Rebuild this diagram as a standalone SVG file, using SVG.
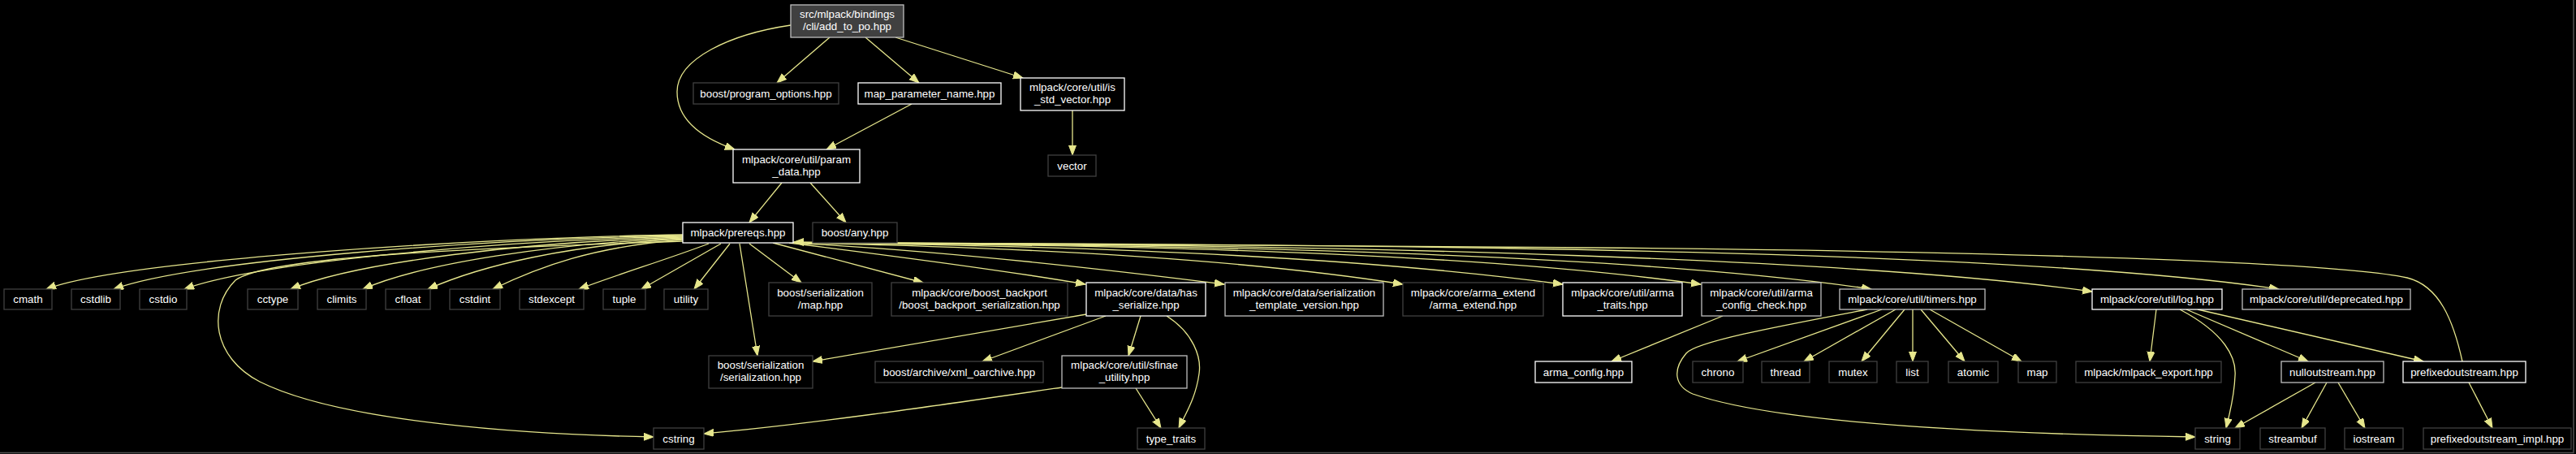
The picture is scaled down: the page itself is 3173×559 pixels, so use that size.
<svg xmlns="http://www.w3.org/2000/svg" width="3173" height="559" viewBox="0 0 3173 559">
<defs>
<style>
.n rect{fill:#000;stroke:#404040;stroke-width:1.3}
.n.w rect{stroke:#ffffff}
.n.g rect{stroke:#bfbfbf}
.n.top rect{fill:#404040;stroke:#bfbfbf}
text{font-family:"Liberation Sans",Arial,Helvetica,sans-serif;font-size:13.33px;fill:#ffffff;text-anchor:middle}
#edges path{fill:none;stroke:#e6e68c;stroke-width:1.3;marker-end:url(#a)}
</style>
<marker id="a" markerUnits="userSpaceOnUse" markerWidth="14" markerHeight="10" refX="12" refY="4.5" orient="auto"><path d="M0,0 L12,4.5 L0,9 z" fill="#e6e68c" stroke="#e6e68c" stroke-width="1"/></marker>
</defs>
<rect x="0" y="0" width="3173" height="559" fill="#000"/>
<path d="M0,557.5 H3170 V0" fill="none" stroke="#505050" stroke-width="1.5"/>
<g id="edges">
<path d="M974,31 C900,42 834,72 834,113 C834,148 865,170 905,184"/>
<path d="M1022,46 L957,102"/>
<path d="M1066,46 L1132,102"/>
<path d="M1103,46 L1260,96"/>
<path d="M1321,136 L1321,191"/>
<path d="M1123,128 L1018,184"/>
<path d="M963,225 L923,274"/>
<path d="M998,225 L1042,274"/>
<path d="M841,289 C600,292 150,320 57,356"/>
<path d="M841,290 C600,294 240,320 140,356"/>
<path d="M841,291 C620,296 320,322 227,356"/>
<path d="M841,292 C650,298 440,322 358,356"/>
<path d="M841,293 C680,300 520,324 447,356"/>
<path d="M841,294 C700,302 595,326 527,356"/>
<path d="M841,295 C730,304 665,328 607,356"/>
<path d="M873,300 C820,320 760,338 713,356"/>
<path d="M888,300 L790,356"/>
<path d="M899,300 L855,356"/>
<path d="M841,297 C600,305 330,315 290,345 C255,380 262,440 320,470 C420,520 650,535 805,538"/>
<path d="M911,300 L933,438"/>
<path d="M923,300 L987,348"/>
<path d="M952,299 L1137,348"/>
<path d="M972,299 C1100,315 1250,335 1337,350"/>
<path d="M975,299 C1150,308 1350,330 1508,350"/>
<path d="M976,299 C1300,305 1550,322 1728,350"/>
<path d="M976,299 C1400,303 1700,320 1925,350"/>
<path d="M977,299 C1500,302 1850,316 2095,350"/>
<path d="M977,299 C1600,301 2050,318 2305,356"/>
<path d="M977,299 C1700,300 2300,320 2577,359"/>
<path d="M977,299 C1800,300 2500,310 2807,356"/>
<path d="M3033,445 C3022,395 3005,352 2965,342 C2850,318 2300,308 1960,305 C1500,302 1200,299 978,298"/>
<path d="M1338,387 L1001,445"/>
<path d="M1362,389 L1210,445"/>
<path d="M1405,389 L1390,438"/>
<path d="M1437,389 C1470,410 1480,440 1477,460 C1473,490 1460,510 1452,527"/>
<path d="M1308,477 C1150,500 1000,522 867,534"/>
<path d="M1399,478 L1430,527"/>
<path d="M2122,389 L1985,445"/>
<path d="M2318,381 L2140,445"/>
<path d="M2335,381 L2222,445"/>
<path d="M2346,381 L2293,445"/>
<path d="M2356,381 L2356,445"/>
<path d="M2366,381 L2420,445"/>
<path d="M2377,381 L2490,445"/>
<path d="M2300,381 C2200,400 2090,420 2077,435 C2060,455 2062,475 2085,485 C2200,525 2500,535 2704,538"/>
<path d="M2656,381 L2648,445"/>
<path d="M2685,381 C2740,410 2755,440 2753,463 C2752,490 2746,510 2742,527"/>
<path d="M2693,381 L2843,445"/>
<path d="M2707,381 L2985,445"/>
<path d="M2852,471 L2753,527"/>
<path d="M2866,471 L2835,527"/>
<path d="M2880,471 L2913,527"/>
<path d="M3041,471 L3070,527"/>
</g>
<g id="n_add_to_po" class="n top"><rect x="974" y="6" width="139" height="40"/><text x="1043.5" y="22">src/mlpack/bindings</text><text x="1043.5" y="37">/cli/add_to_po.hpp</text></g>
<g id="n_program_options" class="n"><rect x="854" y="102" width="179" height="26"/><text x="943.5" y="119.5">boost/program_options.hpp</text></g>
<g id="n_map_parameter_name" class="n w"><rect x="1057" y="102" width="176" height="26"/><text x="1145" y="119.5">map_parameter_name.hpp</text></g>
<g id="n_is_std_vector" class="n w"><rect x="1257" y="96" width="128" height="40"/><text x="1321" y="112">mlpack/core/util/is</text><text x="1321" y="127">_std_vector.hpp</text></g>
<g id="n_vector" class="n"><rect x="1291" y="191" width="59" height="26"/><text x="1320.5" y="208.5">vector</text></g>
<g id="n_param_data" class="n w"><rect x="903" y="184" width="156" height="41"/><text x="981" y="200.5">mlpack/core/util/param</text><text x="981" y="215.5">_data.hpp</text></g>
<g id="n_prereqs" class="n w"><rect x="841" y="274" width="136" height="25"/><text x="909" y="291">mlpack/prereqs.hpp</text></g>
<g id="n_any" class="n"><rect x="1001" y="274" width="104" height="25"/><text x="1053" y="291">boost/any.hpp</text></g>
<g id="n_cmath" class="n"><rect x="5" y="356" width="59" height="25"/><text x="34.5" y="373">cmath</text></g>
<g id="n_cstdlib" class="n"><rect x="88" y="356" width="60" height="25"/><text x="118" y="373">cstdlib</text></g>
<g id="n_cstdio" class="n"><rect x="172" y="356" width="58" height="25"/><text x="201" y="373">cstdio</text></g>
<g id="n_cctype" class="n"><rect x="305" y="356" width="62" height="25"/><text x="336" y="373">cctype</text></g>
<g id="n_climits" class="n"><rect x="391" y="356" width="60" height="25"/><text x="421" y="373">climits</text></g>
<g id="n_cfloat" class="n"><rect x="475" y="356" width="55" height="25"/><text x="502.5" y="373">cfloat</text></g>
<g id="n_cstdint" class="n"><rect x="554" y="356" width="62" height="25"/><text x="585" y="373">cstdint</text></g>
<g id="n_stdexcept" class="n"><rect x="640" y="356" width="79" height="25"/><text x="679.5" y="373">stdexcept</text></g>
<g id="n_tuple" class="n"><rect x="743" y="356" width="52" height="25"/><text x="769" y="373">tuple</text></g>
<g id="n_utility" class="n"><rect x="818" y="356" width="54" height="25"/><text x="845" y="373">utility</text></g>
<g id="n_ser_map" class="n"><rect x="947" y="348" width="127" height="41"/><text x="1010.5" y="364.5">boost/serialization</text><text x="1010.5" y="379.5">/map.hpp</text></g>
<g id="n_boost_backport" class="n"><rect x="1098" y="348" width="217" height="41"/><text x="1206.5" y="364.5">mlpack/core/boost_backport</text><text x="1206.5" y="379.5">/boost_backport_serialization.hpp</text></g>
<g id="n_has_serialize" class="n w"><rect x="1338" y="348" width="147" height="41"/><text x="1411.5" y="364.5">mlpack/core/data/has</text><text x="1411.5" y="379.5">_serialize.hpp</text></g>
<g id="n_template_version" class="n g"><rect x="1509" y="348" width="195" height="41"/><text x="1606.5" y="364.5">mlpack/core/data/serialization</text><text x="1606.5" y="379.5">_template_version.hpp</text></g>
<g id="n_arma_extend" class="n"><rect x="1728" y="348" width="173" height="41"/><text x="1814.5" y="364.5">mlpack/core/arma_extend</text><text x="1814.5" y="379.5">/arma_extend.hpp</text></g>
<g id="n_arma_traits" class="n w"><rect x="1925" y="348" width="147" height="41"/><text x="1998.5" y="364.5">mlpack/core/util/arma</text><text x="1998.5" y="379.5">_traits.hpp</text></g>
<g id="n_arma_config_check" class="n g"><rect x="2096" y="348" width="147" height="41"/><text x="2169.5" y="364.5">mlpack/core/util/arma</text><text x="2169.5" y="379.5">_config_check.hpp</text></g>
<g id="n_timers" class="n g"><rect x="2266" y="356" width="179" height="25"/><text x="2355.5" y="373">mlpack/core/util/timers.hpp</text></g>
<g id="n_log" class="n w"><rect x="2577" y="356" width="160" height="25"/><text x="2657" y="373">mlpack/core/util/log.hpp</text></g>
<g id="n_deprecated" class="n g"><rect x="2762" y="356" width="207" height="25"/><text x="2865.5" y="373">mlpack/core/util/deprecated.hpp</text></g>
<g id="n_serialization" class="n"><rect x="873" y="438" width="128" height="40"/><text x="937" y="454">boost/serialization</text><text x="937" y="469">/serialization.hpp</text></g>
<g id="n_xml_oarchive" class="n"><rect x="1078" y="445" width="207" height="26"/><text x="1181.5" y="462.5">boost/archive/xml_oarchive.hpp</text></g>
<g id="n_sfinae_utility" class="n g"><rect x="1308" y="438" width="154" height="40"/><text x="1385" y="454">mlpack/core/util/sfinae</text><text x="1385" y="469">_utility.hpp</text></g>
<g id="n_arma_config" class="n w"><rect x="1891" y="445" width="119" height="26"/><text x="1950.5" y="462.5">arma_config.hpp</text></g>
<g id="n_chrono" class="n"><rect x="2085" y="445" width="62" height="26"/><text x="2116" y="462.5">chrono</text></g>
<g id="n_thread" class="n"><rect x="2170" y="445" width="59" height="26"/><text x="2199.5" y="462.5">thread</text></g>
<g id="n_mutex" class="n"><rect x="2253" y="445" width="59" height="26"/><text x="2282.5" y="462.5">mutex</text></g>
<g id="n_list" class="n"><rect x="2336" y="445" width="39" height="26"/><text x="2355.5" y="462.5">list</text></g>
<g id="n_atomic" class="n"><rect x="2400" y="445" width="61" height="26"/><text x="2430.5" y="462.5">atomic</text></g>
<g id="n_map" class="n"><rect x="2486" y="445" width="47" height="26"/><text x="2509.5" y="462.5">map</text></g>
<g id="n_mlpack_export" class="n"><rect x="2557" y="445" width="179" height="26"/><text x="2646.5" y="462.5">mlpack/mlpack_export.hpp</text></g>
<g id="n_nulloutstream" class="n g"><rect x="2810" y="445" width="126" height="26"/><text x="2873" y="462.5">nulloutstream.hpp</text></g>
<g id="n_prefixedoutstream" class="n w"><rect x="2960" y="445" width="151" height="26"/><text x="3035.5" y="462.5">prefixedoutstream.hpp</text></g>
<g id="n_cstring" class="n"><rect x="805" y="527" width="62" height="26"/><text x="836" y="544.5">cstring</text></g>
<g id="n_type_traits" class="n"><rect x="1401" y="527" width="83" height="26"/><text x="1442.5" y="544.5">type_traits</text></g>
<g id="n_string" class="n"><rect x="2704" y="527" width="55" height="26"/><text x="2731.5" y="544.5">string</text></g>
<g id="n_streambuf" class="n"><rect x="2784" y="527" width="80" height="26"/><text x="2824" y="544.5">streambuf</text></g>
<g id="n_iostream" class="n"><rect x="2888" y="527" width="72" height="26"/><text x="2924" y="544.5">iostream</text></g>
<g id="n_prefixedoutstream_impl" class="n"><rect x="2985" y="527" width="182" height="26"/><text x="3076" y="544.5">prefixedoutstream_impl.hpp</text></g>
</svg>
